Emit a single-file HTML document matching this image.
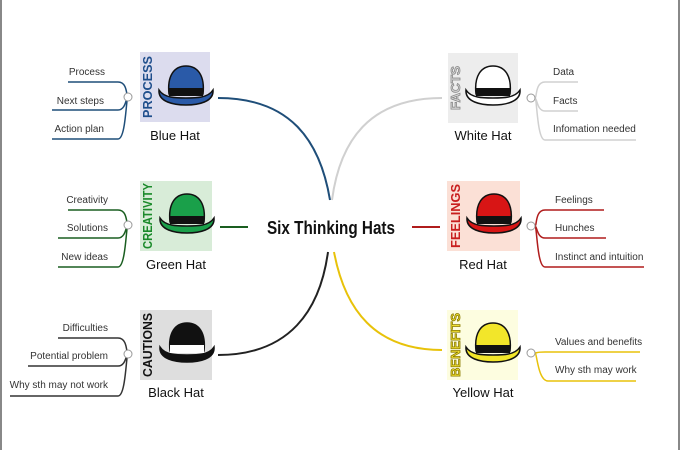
<!DOCTYPE html>
<html><head><meta charset="utf-8"><style>
body{margin:0;background:#fff}
svg{display:block}
text{font-family:"Liberation Sans",sans-serif}
</style></head><body>
<svg width="680" height="450" viewBox="0 0 680 450" xmlns="http://www.w3.org/2000/svg">
<defs>
<g id="hat">
 <path d="M-17,6 C-19,-12 -12,-22 0,-22 C12,-22 19,-12 17,6 Z" fill="currentColor" stroke="#111" stroke-width="1.5"/>
 <rect x="-17" y="0" width="34" height="8" fill="#111"/>
 <path d="M-27,2 C-28,14 -12,17 0,17 C12,17 28,14 27,2 C22,10 10,10 0,10 C-10,10 -22,10 -27,2 Z" fill="currentColor" stroke="#111" stroke-width="1.5"/>
</g>
</defs>
<rect x="0" y="0" width="2" height="450" fill="#888"/>
<rect x="678" y="0" width="2" height="450" fill="#888"/>

<path d="M218,98 C290,98 320,140 330,200" fill="none" stroke="#1f4e79" stroke-width="2"/>
<path d="M442,98 C370,98 340,140 332,200" fill="none" stroke="#d0d0d0" stroke-width="2"/>
<path d="M220,227 H248" stroke="#1a5e20" stroke-width="2"/>
<path d="M412,227 H440" stroke="#b01c1c" stroke-width="2"/>
<path d="M218,355 C290,355 320,310 328,252" fill="none" stroke="#222" stroke-width="2"/>
<path d="M442,350 C375,350 345,310 334,252" fill="none" stroke="#e8c20a" stroke-width="2"/>

<text x="267" y="234" font-size="18" font-weight="bold" textLength="128" lengthAdjust="spacingAndGlyphs" fill="#111">Six Thinking Hats</text>

<rect x="140" y="52" width="70" height="70" fill="#dcdcee"/>
<rect x="140" y="181" width="72" height="70" fill="#d8ecd8"/>
<rect x="140" y="310" width="72" height="70" fill="#dedede"/>
<rect x="448" y="53" width="70" height="70" fill="#ededed"/>
<rect x="447" y="181" width="73" height="70" fill="#fbe0d6"/>
<rect x="447" y="310" width="71" height="70" fill="#fdfde0"/>

<g font-weight="bold" font-size="13">
<text transform="translate(152,87) rotate(-90)" text-anchor="middle" textLength="62" lengthAdjust="spacingAndGlyphs" fill="#1f4e8c">PROCESS</text>
<text transform="translate(152,216) rotate(-90)" text-anchor="middle" textLength="66" lengthAdjust="spacingAndGlyphs" fill="#1a8a2a">CREATIVITY</text>
<text transform="translate(152,345) rotate(-90)" text-anchor="middle" textLength="64" lengthAdjust="spacingAndGlyphs" fill="#111">CAUTIONS</text>
<text transform="translate(460,88) rotate(-90)" text-anchor="middle" textLength="44" lengthAdjust="spacingAndGlyphs" fill="#ddd" stroke="#888" stroke-width="0.8">FACTS</text>
<text transform="translate(460,216) rotate(-90)" text-anchor="middle" textLength="64" lengthAdjust="spacingAndGlyphs" fill="#c81e1e">FEELINGS</text>
<text transform="translate(460,345) rotate(-90)" text-anchor="middle" textLength="64" lengthAdjust="spacingAndGlyphs" fill="#f0e030" stroke="#8a7a00" stroke-width="0.8">BENEFITS</text>
</g>

<use href="#hat" x="186" y="88" color="#2a5aa8"/>
<use href="#hat" x="187" y="216" color="#1aa04a"/>
<use href="#hat" x="187" y="345" color="#111"/>
<use href="#hat" x="493" y="88" color="#fff"/>
<use href="#hat" x="494" y="216" color="#d81515"/>
<use href="#hat" x="493" y="345" color="#f2e62a"/>
<rect x="170" y="345" width="34" height="8" fill="#fff"/>

<g font-size="13" fill="#111" text-anchor="middle">
<text x="175" y="140">Blue Hat</text>
<text x="176" y="269">Green Hat</text>
<text x="176" y="397">Black Hat</text>
<text x="483" y="140">White Hat</text>
<text x="483" y="269">Red Hat</text>
<text x="483" y="397">Yellow Hat</text>
</g>

<g fill="none" stroke-width="1.5">
<g stroke="#1f4e79">
<path d="M68,82 H118 C128,82 126,97 128,97"/><path d="M52,110 H118 C126,110 126,97 128,97"/><path d="M52,139 H118 C126,139 126,97 128,97"/>
</g>
<g stroke="#1a5e20">
<path d="M68,210 H118 C128,210 126,225 128,225"/><path d="M58,238 H118 C126,238 126,225 128,225"/><path d="M58,267 H118 C126,267 126,225 128,225"/>
</g>
<g stroke="#333">
<path d="M58,338 H118 C128,338 126,354 128,354"/><path d="M28,366 H118 C126,366 126,354 128,354"/><path d="M10,396 H118 C126,396 126,354 128,354"/>
</g>
<g stroke="#d0d0d0">
<path d="M535,98 C537,98 535,82 545,82 H578"/><path d="M535,98 C537,98 537,111 545,111 H578"/><path d="M535,98 C537,98 537,140 545,140 H636"/>
</g>
<g stroke="#b01c1c">
<path d="M535,226 C537,226 535,210 545,210 H604"/><path d="M535,226 C537,226 537,238 545,238 H606"/><path d="M535,226 C537,226 537,267 545,267 H644"/>
</g>
<g stroke="#e8c20a">
<path d="M535,353 C537,353 536,352 545,352 H640"/><path d="M535,353 C537,353 538,381 548,381 H636"/>
</g>
</g>
<g fill="#fff" stroke="#999" stroke-width="1">
<circle cx="128" cy="97" r="4"/><circle cx="128" cy="225" r="4"/><circle cx="128" cy="354" r="4"/>
<circle cx="531" cy="98" r="4"/><circle cx="531" cy="226" r="4"/><circle cx="531" cy="353" r="4"/>
</g>

<g font-size="10" fill="#333">
<text x="105" y="75" text-anchor="end">Process</text>
<text x="104" y="104" text-anchor="end">Next steps</text>
<text x="104" y="132" text-anchor="end">Action plan</text>
<text x="108" y="203" text-anchor="end">Creativity</text>
<text x="108" y="231" text-anchor="end">Solutions</text>
<text x="108" y="260" text-anchor="end">New ideas</text>
<text x="108" y="331" text-anchor="end">Difficulties</text>
<text x="108" y="359" text-anchor="end">Potential problem</text>
<text x="108" y="388" text-anchor="end">Why sth may not work</text>
<text x="553" y="75">Data</text>
<text x="553" y="104">Facts</text>
<text x="553" y="132">Infomation needed</text>
<text x="555" y="203">Feelings</text>
<text x="555" y="231">Hunches</text>
<text x="555" y="260">Instinct and intuition</text>
<text x="555" y="345">Values and benefits</text>
<text x="555" y="373">Why sth may work</text>
</g>
</svg>
</body></html>
